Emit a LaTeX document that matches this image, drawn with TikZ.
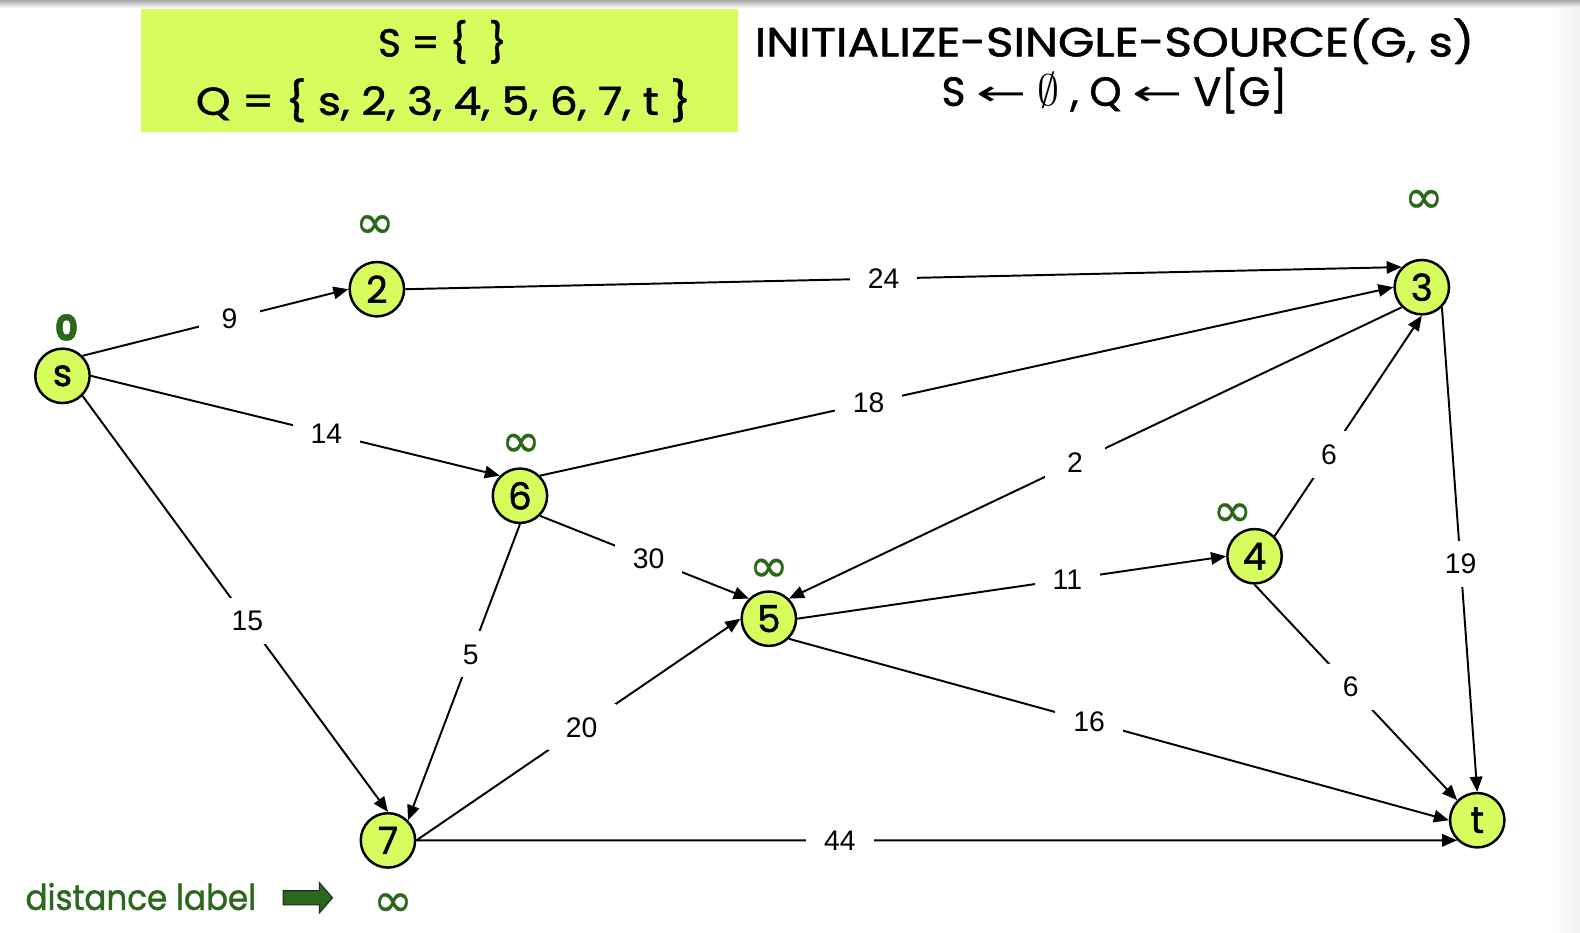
\documentclass[tikz,border=0pt]{standalone}
\usepackage{fontspec}
\setmainfont{Poppins}
\newfontfamily\heavy{Poppins}[FakeBold=1.3]
\newfontfamily\labfont{Liberation Sans}
\newfontfamily\symf{DejaVu Sans}[FakeBold=0.6]
\newfontfamily\arrf{DejaVu Sans}
\usetikzlibrary{arrows.meta}
\definecolor{lime}{RGB}{214,252,94}
\definecolor{dgreen}{RGB}{44,104,28}
\newcommand{\larr}{{\arrf\fontsize{20}{20}\selectfont\scalebox{1.7}[1]{←}}}
\begin{document}
\begin{tikzpicture}[x=0.02cm,y=-0.02cm,
  vtx/.style={circle,draw=black,line width=1.4pt,fill=lime,minimum size=1.08cm,inner sep=0pt,font=\heavy\fontsize{21}{21}\selectfont},
  conn/.style={line width=1.1pt,-{Triangle[length=8.5pt,width=7pt]}},
  wt/.style={fill=white,inner xsep=0.36cm,inner ysep=0.26cm,minimum width=1.2cm,font=\labfont\fontsize{16}{16}\selectfont},
  dist/.style={text=dgreen,inner sep=0pt,font=\symf\fontsize{27}{27}\selectfont},
  txt/.style={anchor=base,inner sep=0pt,font=\heavy\fontsize{22}{22}\selectfont},
]
\fill[white] (0,0) rectangle (1568,925);
\useasboundingbox (0,0) rectangle (1568,925);
\shade[top color=black!35,bottom color=white] (0,0) rectangle (1568,8);
\shade[left color=white,right color=black!5] (1536,8) rectangle (1568,925);

% header
\node (box) [fill=lime,minimum width=11.84cm,minimum height=2.44cm,inner sep=0pt] at (436,70) {};
\node (setS) [txt] at (439,56) {S = \{\ \ \}};
\node (setQ) [txt] at (440,114) {\scalebox{1.13}[1]{Q = \{ s, 2, 3, 4, 5, 6, 7, t \}}};
\node (title) [txt,font=\heavy\fontsize{23}{23}\selectfont] at (1106,56) {\scalebox{1.15}[1]{INITIALIZE-SINGLE-SOURCE(G, s)}};
\node (init) [txt,font=\heavy\fontsize{23}{23}\selectfont] at (1106,105) {S \larr{} $\emptyset$ , Q \larr{} V[G]};

% vertices
\node (s)  [vtx] at (62,373) {s};
\node (n2) [vtx] at (374,287) {2};
\node (n3) [vtx] at (1411,285) {3};
\node (n6) [vtx] at (516,492) {6};
\node (n4) [vtx] at (1245,552) {4};
\node (n5) [vtx] at (763,614) {5};
\node (n7) [vtx] at (385,834) {7};
\node (t)  [vtx] at (1466,814) {t};

% distance labels
\node (d0) [dist,font=\heavy\fontsize{20}{20}\selectfont\bfseries] at (66,325) {0};
\node (d2) [dist] at (372,225) {∞};
\node (d3) [dist] at (1413,200) {∞};
\node (d6) [dist] at (517,442) {∞};
\node (d5) [dist] at (763,566) {∞};
\node (d4) [dist] at (1223,511) {∞};
\node (d7) [dist] at (390,898) {∞};

% edges
\draw[conn] (s.45) -- (n2.180) node[wt,pos=0.553] {9};
\draw[conn] (n2.0) -- (n3.135) node[wt,pos=0.48] {24};
\draw[conn] (s.0) -- (n6.135) node[wt,pos=0.576] {14};
\draw[conn] (s.315) -- (n7.90) node[wt,pos=0.54] {15};
\draw[conn] (n6.45) -- (n3.180) node[wt,pos=0.385] {18};
\draw[conn] (n3.225) -- (n5.45) node[wt,pos=0.533] {2};
\draw[conn] (n4.45) -- (n3.270) node[wt,pos=0.37] {6};
\draw[conn] (n3.315) -- (t.90) node[wt,pos=0.53] {19};
\draw[conn] (n6.315) -- (n5.135) node[wt,pos=0.52] {30};
\draw[conn] (n6.270) -- (n7.45) node[wt,pos=0.44] {5};
\draw[conn] (n5.0) -- (n4.180) node[wt,pos=0.63] {11};
\draw[conn] (n4.270) -- (t.135) node[wt,pos=0.475] {6};
\draw[conn] (n7.0) -- (n5.180) node[wt,pos=0.51] {20};
\draw[conn] (n5.315) -- (t.180) node[wt,pos=0.455] {16};
\draw[conn] (n7.0) -- (t.225) node[wt,pos=0.407] {44};

% legend
\node (leg) [anchor=base west,inner sep=0pt,text=dgreen,font=\heavy\fontsize{20}{20}\selectfont] at (25,903) {\scalebox{0.92}[1]{distance label}};
\draw[fill=dgreen,draw=black!85,line width=0.6pt]
  (281,884) -- (317,884) -- (317,876) -- (330,891) -- (317,906) -- (317,898) -- (281,898) -- cycle;
\end{tikzpicture}
\end{document}
